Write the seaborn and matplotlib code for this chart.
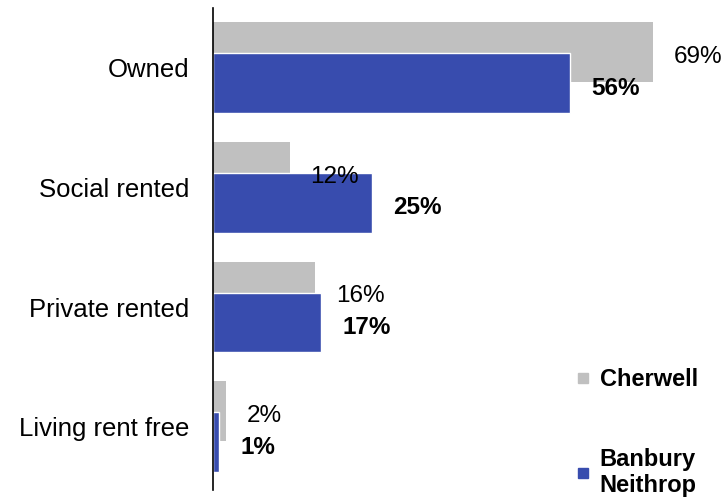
import pandas as pd
import seaborn as sns
from matplotlib import pyplot as plt
from matplotlib.lines import Line2D

tenures = ['Owned', 'Social rented', 'Private rented', 'Living rent free']
cherwell = [69, 12, 16, 2]
banbury = [56, 25, 17, 1]
areas = ['Cherwell', 'Banbury Neithrop']
colors = ['#C0C0C0', '#384CAE']

sns.set_style('white')
plt.rcParams['font.family'] = ['Liberation Sans', 'DejaVu Sans']

df = pd.DataFrame({
    'tenure': tenures * 2,
    'area': [areas[0]] * 4 + [areas[1]] * 4,
    'pct': cherwell + banbury,
})

fig = plt.figure(figsize=(7.26, 5.01), dpi=100)
ax = fig.add_axes([213 / 726, 11 / 501, 1 - 216 / 726, 482 / 501])

# overlapping bars: dodge slot 0.26 each, then widen with a negative gap
sns.barplot(data=df, y='tenure', x='pct', hue='area', order=tenures,
            hue_order=areas, palette=colors, saturation=1, orient='h',
            dodge=True, width=0.52, gap=-0.923, legend=False, ax=ax,
            edgecolor='white', linewidth=1.0)
for p in ax.containers[0]:
    p.set_edgecolor('none')

ax.set_xlim(0, 80)
ax.set_ylim(3.53, -0.5)
ax.set_xlabel('')
ax.set_ylabel('')
ax.set_xticks([])
sns.despine(ax=ax, bottom=True)
ax.spines['left'].set_color('black')
ax.spines['left'].set_linewidth(1.2)
ax.tick_params(axis='y', length=0, pad=17, labelsize=18.5, labelcolor='black')

for cont, vals, weight in [(ax.containers[0], cherwell, 'normal'),
                           (ax.containers[1], banbury, 'bold')]:
    anns = ax.bar_label(cont, labels=[f'{v}%' for v in vals], padding=15,
                        fontsize=17.5, fontweight=weight, color='black')
    for a in anns:
        a.xyann = (15, -3.5)

handles = [Line2D([], [], marker='s', linestyle='none', markersize=7,
                  color=c) for c in colors]
leg = fig.legend(handles, ['Cherwell', 'Banbury\nNeithrop'],
                 loc='upper left', bbox_to_anchor=(576 / 726, 1 - 368 / 501),
                 frameon=False, handlelength=0.6, handletextpad=0.4,
                 labelspacing=2.4, borderaxespad=0, borderpad=0,
                 labelcolor='black', prop={'size': 17, 'weight': 'bold'})

fig.savefig('out.png', dpi=100)
